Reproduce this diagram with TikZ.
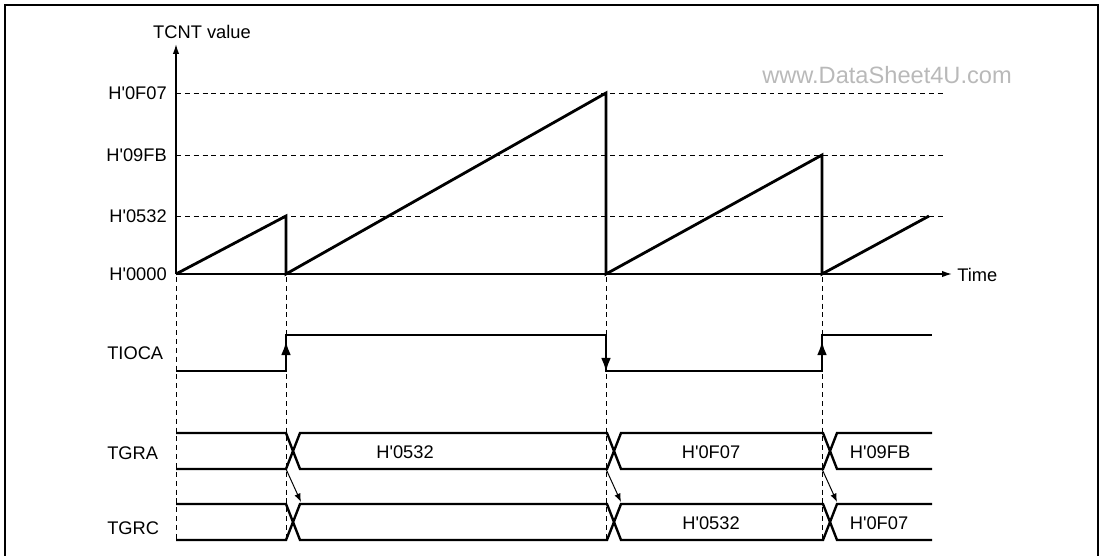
\documentclass[tikz,border=0pt]{standalone}
\usepackage{fontspec}
\setmainfont{Liberation Sans}
\usetikzlibrary{arrows.meta}

\newcommand{\hx}[1]{H\textquotesingle#1}

\tikzset{
  niveau/.style={dash pattern=on 3.5pt off 2.8pt, line width=0.6pt},
  repere/.style={dash pattern=on 3.5pt off 2.8pt, line width=0.6pt},
  axe/.style={line width=1pt, -{Latex[length=7pt,width=4.5pt]}},
  dent/.style={line width=2pt, line join=miter},
  signal/.style={line width=1.7pt},
  front/.style={line width=1.7pt, -{Latex[length=10pt,width=7pt]}},
  transfert/.style={line width=0.7pt, -{Latex[length=6pt,width=4.5pt]}},
  etiq/.style={font=\fontsize{13}{15}\selectfont, inner sep=0pt},
}

\begin{document}
\begin{tikzpicture}[x=0.025cm, y=-0.025cm]
  \useasboundingbox (0,0) rectangle (1103,555);
  % Cadre
  \draw[line width=2pt] (5,570) -- (5,5) -- (1098,5) -- (1098,570);
  % Filigrane
  \node[text=gray!55, font=\fontsize{16.8}{18}\selectfont, inner sep=0pt] (site) at (887,75) {www.DataSheet4U.com};

  % Axes
  \draw[axe] (176,274) -- (176,44);
  \node[etiq] (tcnt) at (202,32) {TCNT value};
  \draw[axe] (176,274) -- (952,274);
  \node[etiq, anchor=west] (temps) at (957,275) {Time};

  % Niveaux de comparaison
  \foreach \y/\val in {93/0F07, 155/09FB, 216/0532} {
    \draw[niveau] (176,\y) -- (945,\y);
    \node[etiq, anchor=east] (niv\val) at (167,\y) {\hx{\val}};
  }
  \node[etiq, anchor=east] (niv0000) at (167,274) {\hx{0000}};

  % Dents de scie
  \draw[dent] (176,274) -- (286,216) -- (286,274) -- (606,93) -- (606,274)
    -- (822,155) -- (822,274) -- (929,216);

  % Reperes verticaux
  \foreach \x in {176,286,606,822}
    \draw[repere] (\x,277) -- (\x,540);

  % TIOCA
  \node[etiq, anchor=west] (tioca) at (107,353) {TIOCA};
  \draw[signal] (176,371) -- (286,371) -- (286,335) -- (606,335) -- (606,371)
    -- (822,371) -- (822,335) -- (932,335);
  \draw[front] (286,371) -- (286,341);
  \draw[front] (606,335) -- (606,372);
  \draw[front] (822,371) -- (822,341);

  % TGRA
  \node[etiq, anchor=west] (tgra) at (107,453) {TGRA};
  \draw[signal] (176,433) -- (286,433) -- (300,469) -- (607,469) -- (621,433)
    -- (823,433) -- (837,469) -- (932,469);
  \draw[signal] (176,469) -- (286,469) -- (300,433) -- (607,433) -- (621,469)
    -- (823,469) -- (837,433) -- (932,433);
  \node[etiq] (ra1) at (405,452) {\hx{0532}};
  \node[etiq] (ra2) at (711,452) {\hx{0F07}};
  \node[etiq] (ra3) at (880,452) {\hx{09FB}};

  % TGRC
  \node[etiq, anchor=west] (tgrc) at (107,528) {TGRC};
  \draw[signal] (176,504) -- (286,504) -- (300,540) -- (607,540) -- (621,504)
    -- (823,504) -- (837,540) -- (932,540);
  \draw[signal] (176,540) -- (286,540) -- (300,504) -- (607,504) -- (621,540)
    -- (823,540) -- (837,504) -- (932,504);
  \node[etiq] (rc2) at (711,523) {\hx{0532}};
  \node[etiq] (rc3) at (879,523) {\hx{0F07}};

  % Transferts TGRA -> TGRC
  \foreach \x in {286,606,822}
    \draw[transfert] (\x,469) -- (\x+15,502);
\end{tikzpicture}
\end{document}
